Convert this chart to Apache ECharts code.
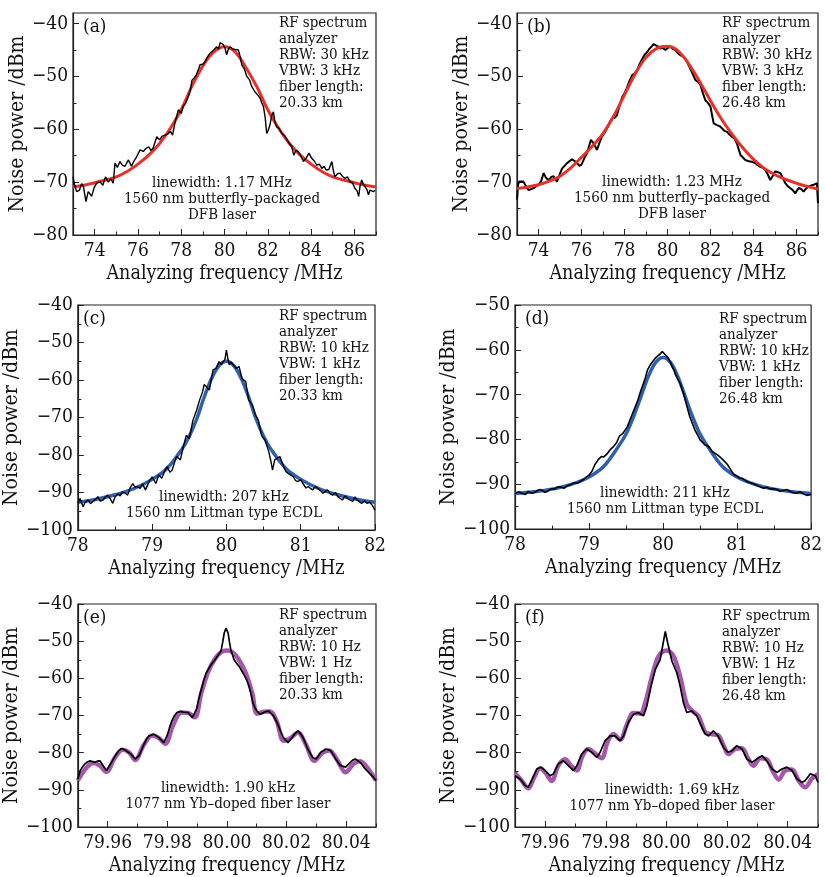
<!DOCTYPE html>
<html>
<head>
<meta charset="utf-8">
<script src="https://cdn.jsdelivr.net/npm/echarts@6/dist/echarts.min.js"></script>
<style>
html,body{margin:0;padding:0;background:#fff;}
#chart{width:825px;height:877px;}
</style>
</head>
<body>
<div id="chart"></div>
<script>
// ---------------- DATA ----------------
const xMajorAB = [74, 76, 78, 80, 82, 84, 86];
const xMinorAB = [73, 75, 77, 79, 81, 83, 85, 87];
const xMajorCD = [78, 79, 80, 81, 82];
const xMinorCD = [78.5, 79.5, 80.5, 81.5];
const xMajorEF = [79.96, 79.98, 80.00, 80.02, 80.04];
const xMinorEF = [79.95, 79.97, 79.99, 80.01, 80.03, 80.05];
const yMajorAB = [-80, -70, -60, -50, -40];
const yMinorAB = [-75, -65, -55, -45];
const yMajorCEF = [-100, -90, -80, -70, -60, -50, -40];
const yMinorCEF = [-95, -85, -75, -65, -55, -45];
const yMajorD = [-100, -90, -80, -70, -60, -50];
const yMinorD = [-95, -85, -75, -65, -55];

const measA = [[73.0,-69.0],[73.08,-70.6],[73.17,-71.8],[73.3,-71.5],[73.4,-70.3],[73.48,-70.8],[73.6,-73.7],[73.7,-71.8],[73.78,-72.2],[73.86,-72.7],[73.98,-71.0],[74.1,-70.2],[74.25,-69.9],[74.38,-70.6],[74.5,-69.0],[74.63,-70.0],[74.75,-69.4],[74.86,-70.2],[74.94,-66.4],[75.05,-67.2],[75.17,-66.1],[75.28,-66.8],[75.4,-67.0],[75.56,-65.8],[75.7,-67.0],[75.82,-66.0],[75.94,-65.2],[76.1,-63.9],[76.25,-64.2],[76.38,-63.6],[76.5,-63.3],[76.6,-64.0],[76.7,-63.6],[76.87,-61.4],[77.0,-62.0],[77.12,-61.3],[77.25,-61.1],[77.38,-60.9],[77.5,-60.4],[77.6,-61.1],[77.72,-58.6],[77.87,-56.3],[78.0,-57.0],[78.1,-55.6],[78.2,-55.1],[78.33,-53.8],[78.42,-52.6],[78.5,-50.7],[78.6,-50.3],[78.7,-49.7],[78.8,-48.6],[78.87,-47.8],[79.0,-47.7],[79.1,-47.2],[79.2,-46.4],[79.33,-45.6],[79.42,-45.6],[79.5,-45.0],[79.64,-44.4],[79.72,-44.8],[79.8,-43.6],[79.88,-43.8],[79.95,-44.0],[80.02,-44.6],[80.1,-45.9],[80.18,-44.8],[80.26,-44.4],[80.38,-44.8],[80.5,-44.9],[80.64,-45.0],[80.72,-46.2],[80.8,-47.8],[80.92,-48.6],[81.03,-50.0],[81.15,-50.6],[81.26,-51.9],[81.4,-52.9],[81.52,-53.4],[81.64,-54.1],[81.72,-55.0],[81.8,-55.7],[81.88,-57.8],[81.95,-60.8],[82.02,-60.2],[82.1,-59.2],[82.18,-57.4],[82.26,-56.7],[82.32,-58.4],[82.4,-59.5],[82.52,-59.8],[82.65,-60.8],[82.78,-61.2],[82.9,-62.0],[83.0,-62.7],[83.1,-63.2],[83.2,-64.9],[83.3,-64.0],[83.4,-64.2],[83.52,-65.0],[83.65,-66.1],[83.78,-65.4],[83.9,-64.5],[84.03,-65.5],[84.15,-66.0],[84.26,-66.8],[84.38,-66.6],[84.5,-67.4],[84.6,-67.0],[84.7,-67.7],[84.82,-67.6],[84.96,-66.1],[85.03,-67.8],[85.1,-69.0],[85.22,-68.4],[85.34,-68.3],[85.45,-68.9],[85.57,-69.3],[85.68,-69.0],[85.8,-69.9],[85.92,-70.2],[86.03,-71.2],[86.12,-71.6],[86.2,-72.7],[86.26,-70.8],[86.34,-69.6],[86.42,-70.4],[86.5,-70.9],[86.58,-71.4],[86.65,-72.4],[86.72,-71.5],[86.8,-71.2],[86.88,-71.8],[86.96,-71.5]];
const fitA = [[73,-70.9],[73.5,-70.6],[74,-70.1],[74.5,-69.6],[75,-69.0],[75.5,-68.0],[76,-66.6],[76.5,-64.9],[77,-62.7],[77.5,-59.8],[78,-56.3],[78.5,-51.8],[79,-48.0],[79.5,-45.4],[80,-44.4],[80.5,-45.4],[81,-48.4],[81.5,-52.0],[82,-56.3],[82.5,-59.8],[83,-62.7],[83.5,-64.9],[84,-66.6],[84.5,-68.0],[85,-69.0],[85.5,-69.6],[86,-70.1],[86.5,-70.6],[87,-70.9]];

const measB = [[73.0,-73.3],[73.05,-70.5],[73.1,-69.9],[73.3,-69.9],[73.42,-70.8],[73.54,-71.5],[73.78,-71.1],[74.0,-70.5],[74.12,-69.8],[74.24,-68.3],[74.35,-69.2],[74.47,-69.6],[74.6,-69.0],[74.7,-68.9],[74.86,-69.9],[74.98,-68.6],[75.1,-67.4],[75.22,-66.9],[75.33,-66.4],[75.45,-66.0],[75.56,-65.7],[75.68,-66.0],[75.8,-66.4],[75.9,-66.9],[76.0,-66.7],[76.14,-65.4],[76.26,-64.5],[76.35,-63.2],[76.44,-62.0],[76.5,-62.2],[76.57,-62.7],[76.72,-63.9],[76.84,-62.5],[76.95,-61.4],[77.08,-60.6],[77.19,-59.8],[77.3,-58.8],[77.42,-57.9],[77.55,-57.8],[77.65,-57.3],[77.78,-55.4],[77.9,-53.8],[78.0,-53.2],[78.1,-52.3],[78.22,-51.0],[78.35,-49.8],[78.45,-49.5],[78.58,-48.8],[78.7,-47.7],[78.8,-46.9],[78.92,-46.0],[79.05,-45.4],[79.15,-44.8],[79.25,-44.4],[79.35,-43.9],[79.43,-43.8],[79.55,-44.3],[79.67,-44.7],[79.78,-44.6],[79.9,-45.0],[80.02,-44.6],[80.13,-44.4],[80.25,-44.8],[80.36,-45.0],[80.48,-45.6],[80.6,-46.0],[80.72,-46.2],[80.83,-46.6],[80.95,-47.6],[81.06,-48.5],[81.18,-49.6],[81.3,-50.7],[81.42,-51.0],[81.53,-51.6],[81.65,-53.2],[81.76,-54.5],[81.88,-55.0],[82.0,-55.7],[82.08,-57.5],[82.15,-58.9],[82.3,-59.2],[82.42,-59.4],[82.53,-59.8],[82.65,-60.3],[82.77,-60.5],[82.88,-61.0],[83.0,-61.4],[83.12,-61.8],[83.23,-62.7],[83.32,-63.9],[83.4,-64.9],[83.5,-65.3],[83.62,-65.8],[83.74,-66.0],[83.85,-66.1],[83.96,-66.2],[84.08,-66.4],[84.2,-66.8],[84.32,-67.1],[84.44,-67.3],[84.55,-67.7],[84.67,-68.6],[84.78,-69.6],[84.9,-68.8],[85.0,-68.0],[85.12,-68.1],[85.25,-68.3],[85.36,-69.2],[85.48,-70.2],[85.6,-70.8],[85.7,-71.1],[85.82,-71.5],[85.95,-72.1],[86.02,-71.6],[86.1,-71.1],[86.22,-71.3],[86.33,-71.8],[86.45,-71.2],[86.57,-70.8],[86.7,-70.6],[86.8,-70.5],[86.88,-70.3],[86.95,-70.2],[87.0,-74.0]];
const fitB = [[73,-71.2],[73.5,-70.9],[74,-70.5],[74.5,-69.8],[75,-68.9],[75.5,-67.3],[76,-65.3],[76.5,-63.2],[77,-60.8],[77.5,-57.5],[78,-53.5],[78.5,-49.5],[79,-46.4],[79.5,-44.7],[80,-44.3],[80.5,-45.2],[81,-47.7],[81.5,-51.0],[82,-54.6],[82.5,-58.0],[83,-60.9],[83.5,-63.5],[84,-65.7],[84.5,-67.4],[85,-68.6],[85.5,-69.5],[86,-70.2],[86.5,-70.8],[87,-71.3]];

const measC = [[78.0,-92.9],[78.03,-91.6],[78.07,-93.8],[78.1,-92.6],[78.14,-92.0],[78.17,-93.0],[78.2,-92.4],[78.24,-91.8],[78.27,-91.1],[78.3,-92.3],[78.34,-92.0],[78.37,-91.2],[78.4,-90.7],[78.44,-91.8],[78.47,-92.9],[78.5,-91.2],[78.54,-90.4],[78.57,-90.9],[78.6,-89.8],[78.64,-90.2],[78.67,-90.7],[78.7,-88.9],[78.74,-87.6],[78.77,-88.6],[78.8,-88.4],[78.84,-88.9],[78.87,-87.7],[78.91,-89.3],[78.96,-87.1],[79.0,-85.8],[79.05,-87.6],[79.09,-85.3],[79.13,-86.2],[79.17,-84.2],[79.2,-83.1],[79.24,-84.6],[79.27,-84.0],[79.3,-82.0],[79.33,-80.4],[79.38,-81.3],[79.42,-77.8],[79.46,-74.7],[79.5,-75.6],[79.53,-72.6],[79.55,-70.7],[79.6,-68.0],[79.64,-65.3],[79.68,-63.1],[79.7,-61.2],[79.73,-61.8],[79.77,-62.7],[79.8,-59.4],[79.82,-57.3],[79.86,-56.9],[79.9,-55.1],[79.93,-55.8],[79.95,-56.0],[79.98,-54.5],[80.0,-52.0],[80.02,-54.4],[80.04,-56.0],[80.06,-55.2],[80.08,-54.7],[80.13,-56.9],[80.17,-56.4],[80.21,-59.6],[80.26,-60.4],[80.28,-63.0],[80.3,-65.3],[80.35,-66.7],[80.39,-69.3],[80.43,-70.7],[80.46,-73.6],[80.48,-75.1],[80.52,-76.0],[80.57,-79.1],[80.6,-81.8],[80.62,-84.0],[80.65,-81.3],[80.68,-80.9],[80.72,-80.4],[80.77,-83.1],[80.8,-84.4],[80.83,-84.9],[80.9,-85.8],[80.93,-86.8],[80.96,-87.1],[81.0,-86.6],[81.03,-87.6],[81.07,-88.8],[81.1,-88.4],[81.16,-89.3],[81.2,-88.4],[81.23,-88.9],[81.27,-89.6],[81.3,-90.2],[81.36,-89.3],[81.4,-90.4],[81.43,-90.7],[81.47,-90.0],[81.5,-91.1],[81.56,-92.0],[81.6,-90.9],[81.63,-91.6],[81.7,-92.4],[81.73,-91.2],[81.76,-92.0],[81.82,-92.9],[81.86,-92.2],[81.89,-92.9],[81.93,-92.6],[81.96,-93.3],[82.0,-94.7]];
const fitC = [[78.0,-92.6],[78.25,-91.8],[78.5,-90.6],[78.75,-89.0],[79.0,-86.5],[79.2,-83.6],[79.4,-78.5],[79.5,-75.0],[79.6,-70.4],[79.7,-64.6],[79.8,-59.6],[79.9,-56.2],[80.0,-55.0],[80.1,-56.2],[80.2,-59.6],[80.3,-64.6],[80.4,-70.4],[80.5,-75.0],[80.6,-78.5],[80.8,-83.6],[81.0,-86.5],[81.25,-89.0],[81.5,-90.6],[81.75,-91.8],[82.0,-92.6]];

const measD = [[78.0,-92.1],[78.05,-91.7],[78.09,-92.0],[78.14,-92.3],[78.18,-91.6],[78.22,-92.0],[78.27,-91.8],[78.31,-91.3],[78.35,-91.2],[78.4,-91.8],[78.44,-91.6],[78.49,-91.0],[78.53,-91.1],[78.58,-90.6],[78.62,-90.6],[78.66,-90.9],[78.71,-90.3],[78.75,-90.1],[78.8,-89.7],[78.84,-89.8],[78.88,-89.4],[78.93,-88.9],[78.97,-88.3],[79.0,-88.0],[79.04,-87.1],[79.08,-85.6],[79.13,-84.4],[79.17,-83.8],[79.2,-83.9],[79.24,-83.3],[79.28,-82.4],[79.33,-81.6],[79.37,-80.8],[79.41,-79.3],[79.46,-78.6],[79.52,-77.1],[79.55,-75.8],[79.59,-74.1],[79.62,-72.9],[79.66,-71.2],[79.69,-69.6],[79.72,-68.2],[79.76,-66.3],[79.79,-64.5],[79.83,-63.3],[79.86,-62.6],[79.9,-61.8],[79.92,-61.5],[79.96,-60.9],[79.99,-60.4],[80.01,-60.6],[80.03,-61.1],[80.06,-61.6],[80.08,-61.9],[80.1,-62.8],[80.12,-63.7],[80.15,-64.6],[80.17,-65.6],[80.2,-66.6],[80.23,-67.5],[80.27,-69.4],[80.3,-71.2],[80.33,-73.1],[80.36,-74.9],[80.4,-76.6],[80.43,-77.9],[80.47,-79.1],[80.5,-80.1],[80.53,-80.6],[80.56,-81.2],[80.6,-81.4],[80.63,-81.9],[80.66,-82.6],[80.7,-83.1],[80.73,-83.4],[80.76,-83.8],[80.8,-84.4],[80.83,-84.9],[80.87,-85.6],[80.9,-86.4],[80.93,-87.2],[80.96,-87.9],[81.0,-88.2],[81.03,-88.6],[81.07,-88.7],[81.1,-89.0],[81.14,-89.5],[81.18,-89.7],[81.22,-89.9],[81.27,-90.3],[81.31,-90.6],[81.36,-90.9],[81.4,-90.7],[81.45,-91.1],[81.5,-91.0],[81.54,-91.2],[81.58,-91.6],[81.62,-91.4],[81.67,-91.2],[81.71,-91.5],[81.76,-91.9],[81.8,-92.0],[81.85,-91.7],[81.89,-92.1],[81.94,-92.5],[82.0,-92.3]];
const fitD = [[78.0,-92.1],[78.25,-91.7],[78.5,-91.1],[78.75,-90.1],[79.0,-88.4],[79.2,-86.0],[79.4,-81.5],[79.5,-78.8],[79.6,-75.0],[79.7,-70.5],[79.8,-66.0],[79.9,-62.8],[80.0,-61.7],[80.1,-62.8],[80.2,-66.0],[80.3,-70.5],[80.4,-75.0],[80.5,-78.8],[80.6,-81.5],[80.8,-86.0],[81.0,-88.4],[81.25,-90.1],[81.5,-91.1],[81.75,-91.7],[82.0,-92.1]];

const measE = [[79.95,-87.1],[79.9508,-84.8],[79.9516,-83.8],[79.9524,-83.0],[79.9532,-82.5],[79.9541,-82.2],[79.9549,-82.4],[79.9557,-82.6],[79.9565,-82.3],[79.9574,-82.2],[79.9585,-83.5],[79.9596,-84.8],[79.961,-83.0],[79.962,-81.6],[79.9629,-80.4],[79.9637,-79.5],[79.9645,-78.9],[79.9654,-79.1],[79.9662,-79.5],[79.9678,-80.4],[79.9692,-81.7],[79.9705,-80.8],[79.9714,-79.2],[79.9722,-77.7],[79.973,-76.4],[79.9738,-75.5],[79.9755,-75.0],[79.9771,-75.9],[79.9788,-77.3],[79.9799,-75.5],[79.9807,-73.4],[79.9815,-71.5],[79.9823,-70.2],[79.9832,-69.2],[79.9843,-68.9],[79.9854,-69.1],[79.987,-69.2],[79.9884,-70.6],[79.9898,-68.3],[79.9906,-65.5],[79.9914,-63.0],[79.9922,-60.6],[79.9931,-58.5],[79.9947,-56.3],[79.9956,-55.4],[79.9964,-54.5],[79.9972,-53.6],[79.998,-52.7],[79.9986,-50.2],[79.9991,-47.8],[79.9997,-46.5],[80.0004,-47.8],[80.0008,-50.0],[80.0013,-52.3],[80.0024,-55.0],[80.0032,-55.9],[80.0041,-56.8],[80.0049,-57.9],[80.0057,-59.0],[80.0066,-60.4],[80.0074,-62.1],[80.0081,-64.3],[80.0087,-66.6],[80.0094,-67.9],[80.0101,-68.8],[80.0112,-69.7],[80.0123,-69.2],[80.0132,-68.9],[80.014,-68.8],[80.0156,-70.1],[80.0165,-71.4],[80.0173,-72.8],[80.0181,-74.4],[80.0189,-75.9],[80.0205,-77.3],[80.0214,-76.4],[80.0222,-75.5],[80.0238,-74.1],[80.0246,-74.8],[80.0255,-75.9],[80.0263,-77.4],[80.0271,-79.0],[80.028,-80.3],[80.0288,-81.3],[80.0299,-81.7],[80.0307,-80.8],[80.0315,-79.9],[80.0332,-79.0],[80.034,-79.2],[80.0348,-79.5],[80.0357,-80.6],[80.0365,-81.7],[80.0381,-83.5],[80.0398,-83.9],[80.0414,-82.6],[80.0422,-82.0],[80.0431,-81.7],[80.0447,-82.6],[80.0464,-84.4],[80.048,-85.7],[80.049,-86.5],[80.05,-87.5]];
const fitE = [[79.95,-87.5],[79.9524,-84.5],[79.9552,-82.8],[79.9574,-83.5],[79.9596,-85.2],[79.9623,-81.5],[79.9651,-79.2],[79.9673,-80.0],[79.9692,-82.0],[79.9722,-77.8],[79.975,-75.4],[79.9771,-76.0],[79.9793,-77.6],[79.982,-72.5],[79.9848,-69.2],[79.987,-69.3],[79.9892,-70.5],[79.9914,-64.0],[79.9936,-58.5],[79.9958,-55.0],[79.998,-53.0],[80.0,-52.5],[80.0019,-53.0],[80.004,-55.0],[80.0063,-58.5],[80.0085,-64.0],[80.0101,-69.5],[80.0123,-69.0],[80.0145,-68.9],[80.0167,-71.5],[80.019,-76.8],[80.0211,-76.2],[80.0238,-74.6],[80.0266,-78.0],[80.0293,-82.2],[80.0321,-80.0],[80.0343,-79.4],[80.037,-82.0],[80.0398,-85.3],[80.0425,-83.0],[80.0447,-82.3],[80.0475,-84.5],[80.05,-87.5]];

const measF = [[79.95,-86.2],[79.9517,-87.1],[79.9533,-88.8],[79.9544,-89.3],[79.9557,-87.1],[79.9572,-84.4],[79.9586,-83.9],[79.9599,-84.8],[79.9616,-86.2],[79.9627,-85.7],[79.9643,-83.0],[79.966,-82.2],[79.9676,-83.5],[79.9693,-84.8],[79.9704,-83.5],[79.972,-80.4],[79.9737,-79.0],[79.9753,-79.9],[79.977,-81.3],[79.9781,-79.9],[79.9797,-76.8],[79.9814,-75.5],[79.983,-75.5],[79.9847,-76.8],[79.9858,-75.5],[79.9874,-71.9],[79.9891,-69.7],[79.9907,-69.2],[79.9924,-70.1],[79.9935,-67.5],[79.9949,-62.1],[79.9963,-57.6],[79.9979,-55.0],[79.9987,-51.4],[79.9996,-47.4],[80.0004,-50.5],[80.0018,-55.4],[80.0034,-58.5],[80.0045,-62.1],[80.0056,-66.6],[80.0067,-69.2],[80.0084,-68.8],[80.01,-70.1],[80.0117,-73.2],[80.0128,-75.0],[80.0139,-75.5],[80.0155,-74.1],[80.017,-75.5],[80.0188,-78.6],[80.0203,-79.9],[80.0216,-79.5],[80.0232,-78.1],[80.0249,-79.0],[80.0265,-81.7],[80.0282,-82.6],[80.0298,-81.7],[80.0315,-80.8],[80.0331,-82.2],[80.0348,-84.4],[80.0365,-85.3],[80.0381,-84.4],[80.0398,-83.9],[80.0414,-84.8],[80.0431,-87.1],[80.0447,-88.0],[80.0458,-87.5],[80.0475,-85.7],[80.0491,-86.2],[80.05,-88.0]];
const fitF = [[79.95,-85.5],[79.9522,-87.5],[79.9544,-89.6],[79.9564,-86.5],[79.9583,-84.2],[79.9601,-85.5],[79.9621,-87.6],[79.9643,-83.5],[79.9665,-81.8],[79.9685,-83.5],[79.9704,-84.8],[79.9722,-81.0],[79.9742,-79.0],[79.9764,-80.2],[79.9786,-81.5],[79.9806,-77.0],[79.9825,-75.0],[79.9847,-76.5],[79.9869,-72.5],[79.9891,-69.3],[79.9913,-69.5],[79.993,-66.5],[79.9952,-59.5],[79.9974,-54.0],[80.0,-52.5],[80.0023,-54.0],[80.0045,-59.5],[80.0067,-67.0],[80.0086,-68.8],[80.0106,-70.2],[80.0128,-74.5],[80.0148,-75.0],[80.017,-75.3],[80.0188,-78.0],[80.0205,-80.4],[80.0227,-79.0],[80.0249,-78.8],[80.0269,-81.5],[80.0287,-83.5],[80.0309,-81.5],[80.0331,-81.8],[80.0351,-85.0],[80.037,-87.2],[80.0392,-84.8],[80.0414,-84.5],[80.0436,-87.5],[80.0458,-89.3],[80.048,-87.0],[80.05,-85.8]];

const labels = ['(a)', '(b)', '(c)', '(d)', '(e)', '(f)'];
const infoTexts = [
  'RF spectrum\nanalyzer\nRBW: 30 kHz\nVBW: 3 kHz\nfiber length:\n20.33 km',
  'RF spectrum\nanalyzer\nRBW: 30 kHz\nVBW: 3 kHz\nfiber length:\n26.48 km',
  'RF spectrum\nanalyzer\nRBW: 10 kHz\nVBW: 1 kHz\nfiber length:\n20.33 km',
  'RF spectrum\nanalyzer\nRBW: 10 kHz\nVBW: 1 kHz\nfiber length:\n26.48 km',
  'RF spectrum\nanalyzer\nRBW: 10 Hz\nVBW: 1 Hz\nfiber length:\n20.33 km',
  'RF spectrum\nanalyzer\nRBW: 10 Hz\nVBW: 1 Hz\nfiber length:\n26.48 km'
];
const laserTexts = [
  'linewidth: 1.17 MHz\n1560 nm butterfly\u2013packaged\nDFB laser',
  'linewidth: 1.23 MHz\n1560 nm butterfly\u2013packaged\nDFB laser',
  'linewidth: 207 kHz\n1560 nm Littman type ECDL',
  'linewidth: 211 kHz\n1560 nm Littman type ECDL',
  'linewidth: 1.90 kHz\n1077 nm Yb\u2013doped fiber laser',
  'linewidth: 1.69 kHz\n1077 nm Yb\u2013doped fiber laser'
];
const xTitle = 'Analyzing frequency /MHz';
const yTitle = 'Noise power /dBm';

// ---------------- LAYOUT ----------------
const FONT = "'DejaVu Serif Condensed', 'DejaVu Serif', serif";
const panels = [
  {g:{left:73,top:13,width:303,height:222}, xr:[73,87], yr:[-80,-38], xMaj:xMajorAB, xMin:xMinorAB, yMaj:yMajorAB, yMin:yMinorAB, meas:measA, fit:fitA, fitColor:'#e8302a', fitW:3, fitOnTop:false, measW:1.4, infoDx:206, infoDy:2, lasDx:149, lasDy:162, dec:0},
  {g:{left:517,top:13,width:301,height:222}, xr:[73,87], yr:[-80,-38], xMaj:xMajorAB, xMin:xMinorAB, yMaj:yMajorAB, yMin:yMinorAB, meas:measB, fit:fitB, fitColor:'#e8302a', fitW:3, fitOnTop:true, measW:2, infoDx:205, infoDy:2, lasDx:155, lasDy:161, dec:0},
  {g:{left:73,top:305,width:302,height:225}, xr:[78,82], yr:[-100,-40], xMaj:xMajorCD, xMin:xMinorCD, yMaj:yMajorCEF, yMin:yMinorCEF, meas:measC, fit:fitC, fitColor:'#2f5fb0', fitW:3.5, fitOnTop:false, measW:1.4, infoDx:206, infoDy:3, lasDx:151, lasDy:184, dec:0},
  {g:{left:515,top:305,width:302,height:224}, xr:[78,82], yr:[-100,-50], xMaj:xMajorCD, xMin:xMinorCD, yMaj:yMajorD, yMin:yMinorD, meas:measD, fit:fitD, fitColor:'#2f5fb0', fitW:3.5, fitOnTop:false, measW:1.6, infoDx:204, infoDy:6, lasDx:150, lasDy:180, dec:0},
  {g:{left:73,top:604,width:303,height:224}, xr:[79.95,80.05], yr:[-100,-40], xMaj:xMajorEF, xMin:xMinorEF, yMaj:yMajorCEF, yMin:yMinorCEF, meas:measE, fit:fitE, fitColor:'#a457ab', fitW:4.5, fitOnTop:false, measW:1.7, infoDx:206, infoDy:3, lasDx:155, lasDy:176, dec:2},
  {g:{left:515,top:604,width:303,height:224}, xr:[79.95,80.05], yr:[-100,-40], xMaj:xMajorEF, xMin:xMinorEF, yMaj:yMajorCEF, yMin:yMinorCEF, meas:measF, fit:fitF, fitColor:'#a457ab', fitW:4.5, fitOnTop:false, measW:1.7, infoDx:207, infoDy:4, lasDx:157, lasDy:178, dec:2}
];

const fmtY = v => String(v).replace('-', '\u2212');
const grids = [], xAxes = [], yAxes = [], series = [], graphics = [];
const lineCol = '#222';

panels.forEach((p, i) => {
  grids.push(Object.assign({show:true, borderColor:lineCol, borderWidth:1.2, backgroundColor:'transparent', containLabel:false}, p.g));
  const dec = p.dec;
  xAxes.push({
    type:'value', gridIndex:i, position:'bottom', min:p.xr[0], max:p.xr[1],
    axisLine:{show:true, lineStyle:{color:lineCol, width:1.2}},
    axisTick:{show:true, inside:true, length:6, customValues:p.xMaj, lineStyle:{color:lineCol, width:1}},
    axisLabel:{show:true, customValues:p.xMaj, margin:7, color:'#111', fontFamily:FONT, fontSize:19,
      formatter: v => dec ? Number(v).toFixed(dec) : String(v)},
    splitLine:{show:false},
    name:xTitle, nameLocation:'middle', nameGap:29,
    nameTextStyle:{fontFamily:FONT, fontSize:19.5, color:'#111'}
  });
  xAxes.push({
    type:'value', gridIndex:i, position:'bottom', min:p.xr[0], max:p.xr[1],
    axisLine:{show:false}, axisLabel:{show:false}, splitLine:{show:false},
    axisTick:{show:true, inside:true, length:3.5, customValues:p.xMin, lineStyle:{color:lineCol, width:1}}
  });
  yAxes.push({
    type:'value', gridIndex:i, position:'left', min:p.yr[0], max:p.yr[1],
    axisLine:{show:true, lineStyle:{color:lineCol, width:1.2}},
    axisTick:{show:true, inside:true, length:6, customValues:p.yMaj, lineStyle:{color:lineCol, width:1}},
    axisLabel:{show:true, customValues:p.yMaj, margin:5, color:'#111', fontFamily:FONT, fontSize:19, formatter:fmtY},
    splitLine:{show:false},
    name:yTitle, nameLocation:'middle', nameGap:42,
    nameTextStyle:{fontFamily:FONT, fontSize:21, color:'#111'}
  });
  yAxes.push({
    type:'value', gridIndex:i, position:'left', min:p.yr[0], max:p.yr[1],
    axisLine:{show:false}, axisLabel:{show:false}, splitLine:{show:false},
    axisTick:{show:true, inside:true, length:3.5, customValues:p.yMin, lineStyle:{color:lineCol, width:1}}
  });
  const meas = {type:'line', xAxisIndex:2*i, yAxisIndex:2*i, data:p.meas, showSymbol:false, symbol:'none',
    lineStyle:{color:'#000', width:p.measW}, animation:false, z:3};
  const fit = {type:'line', xAxisIndex:2*i, yAxisIndex:2*i, data:p.fit, showSymbol:false, symbol:'none', smooth:0.35,
    lineStyle:{color:p.fitColor, width:p.fitW}, animation:false, z:2};
  if (p.fitOnTop) { meas.z = 2; fit.z = 3; }
  series.push(fit, meas);

  graphics.push({type:'text', left:p.g.left + 10, top:p.g.top + 5, z:10,
    style:{text:labels[i], fontFamily:FONT, fontSize:19, fill:'#111'}});
  graphics.push({type:'text', x:p.g.left + p.infoDx, y:p.g.top + p.infoDy, z:10,
    style:{text:infoTexts[i], fontFamily:FONT, fontSize:15, lineHeight:16, fill:'#111', textAlign:'left', textVerticalAlign:'top'}});
  graphics.push({type:'text', x:p.g.left + p.lasDx, y:p.g.top + p.lasDy, z:10,
    style:{text:laserTexts[i], fontFamily:FONT, fontSize:15, lineHeight:16, fill:'#111', textAlign:'center', textVerticalAlign:'top'}});
});

const chart = echarts.init(document.getElementById('chart'), null, {renderer:'canvas', width:825, height:877});
chart.setOption({
  backgroundColor:'#fff',
  animation:false,
  grid:grids, xAxis:xAxes, yAxis:yAxes, series:series, graphic:graphics
});
</script>
</body>
</html>
